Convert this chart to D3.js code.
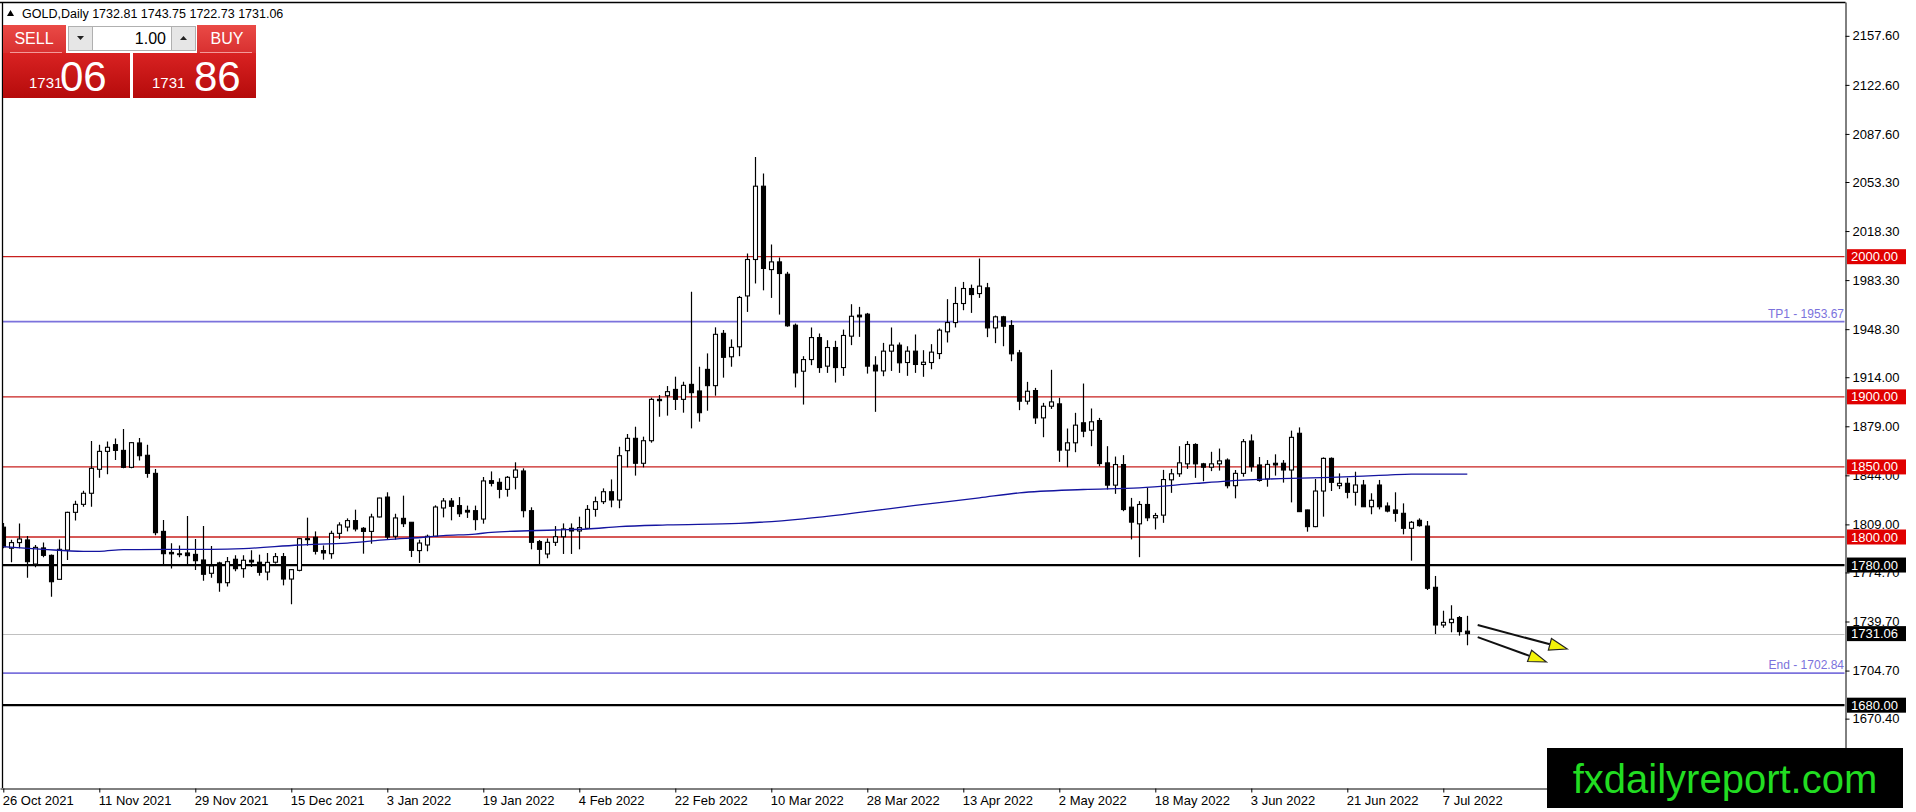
<!DOCTYPE html>
<html><head><meta charset="utf-8">
<script src="https://cdn.jsdelivr.net/npm/d3@7/dist/d3.min.js"></script>
<style>html,body{margin:0;padding:0;background:#fff;overflow:hidden}svg{display:block}</style>
</head><body><svg id="c" width="1916" height="812"></svg>
<script>
// ---------------- DATA ----------------
const opens = [1807,1792,1796,1797.9,1780.7,1792.2,1786.9,1769.8,1790.7,1817.6,1823.3,1831.2,1848.3,1861.1,1865.9,1861.8,1849.7,1867.1,1858.3,1845.4,
1804,1789,1788,1788.6,1787.6,1783.6,1774.1,1781.5,1767.4,1784.1,1777.4,1783.4,1782,1775,1782,1786,1770,1776.2,1798.8,1799.8,
1790.3,1788.1,1802.6,1807.1,1811.7,1806.2,1804,1814.3,1828.5,1800.5,1813.3,1810.5,1790.3,1794.3,1800.5,1820.7,1825.7,1822.4,1819,1818.8,
1812.8,1840.2,1839,1834,1842.6,1847.1,1818.8,1796.7,1787.9,1796.2,1800.2,1806.2,1804.3,1806.2,1819.7,1825.2,1832.3,1826.4,1861.6,1870.4,
1852.6,1868.7,1898.2,1900.8,1905.3,1898.2,1908.9,1904.2,1919.6,1908,1945.3,1928.6,1935.7,1972,1998,2050.3,1990.8,1996.3,1987.5,1951.1,
1918.3,1926.6,1942.3,1921.9,1935.2,1920.9,1943.3,1958.3,1959,1922.6,1918.5,1932.6,1936.9,1924.5,1932.6,1923.1,1924.5,1930.9,1946.4,1953,
1966.6,1977.3,1973.7,1977.8,1949.2,1957.1,1950.9,1931.4,1896.9,1904.5,1885,1893.3,1895,1862,1867.2,1881.5,1876.2,1883.1,1852.9,1837,
1851.7,1821.3,1809.4,1823.2,1813.7,1815.6,1840.8,1845.1,1852.2,1866,1852.2,1849.8,1852.2,1854.9,1836.6,1845.4,1868.5,1851.4,1841.4,1852.6,
1852.6,1847.8,1874,1819.3,1807.4,1832.8,1856.1,1836.6,1838.3,1831.9,1837.1,1821.6,1837.1,1822.1,1819.3,1816.9,1806.2,1811.9,1807.8,1764.1,
1737.2,1738.9,1742.5,1732.81];
const highs = [1810,1798,1809.7,1800.7,1794.3,1796,1787.5,1798.3,1818,1825.9,1833,1868.5,1865.9,1868.2,1870.2,1877,1867.8,1870.6,1865.9,1848.5,
1812.1,1795.5,1794,1815,1798.6,1807.8,1793.6,1782.4,1785.7,1786.9,1786.9,1790.5,1787.4,1788.6,1788.6,1788.6,1777,1799.3,1813.8,1804,
1794,1804.5,1810.5,1813.3,1819.5,1807.1,1816.6,1828,1831.9,1816.6,1829.5,1810.5,1798.1,1801.7,1822.6,1827.8,1827.8,1828.5,1822.4,1822.4,
1842.8,1846.8,1841.9,1843.5,1853.3,1849,1821.2,1797.9,1799,1807.8,1809.7,1809.7,1814.5,1822.8,1828.8,1834.7,1841.1,1864.4,1873.5,1878.7,
1871.6,1899.4,1901.3,1907.7,1914.4,1910.8,1975,1921.5,1931,1949.6,1947.7,1941,1972,2002.3,2071.2,2059.3,2008.7,1999.4,1989.2,1952.3,
1929,1949.5,1945.2,1940.4,1940,1948,1966.1,1964.2,1959.9,1929,1938.5,1949.5,1938.8,1936.1,1944.5,1933.3,1937.6,1948.8,1969.7,1978.5,
1982,1980.1,1998.7,1981.3,1958,1957.8,1954.7,1933.5,1910.7,1906.4,1895.7,1919.3,1899.3,1877.4,1888.6,1909.5,1891.7,1885,1864.8,1857.4,
1858.4,1827.9,1825.6,1835.1,1817.2,1847.9,1848.6,1864.8,1868.4,1866.9,1852.9,1860.8,1863.1,1856.1,1847.8,1869.9,1873.2,1857.1,1854.9,1859,
1854.9,1875.9,1878.2,1819.5,1841.4,1856.8,1856.8,1845.4,1842.3,1846.6,1840.7,1831.2,1840.7,1824.7,1831.9,1824,1811.4,1813.3,1811.4,1772.2,
1747.4,1751.3,1743.6,1743.75];
const lows = [1792,1782,1792,1771,1778.4,1785.5,1757.4,1769.5,1783.6,1811.7,1821.6,1821.6,1842.3,1844.7,1854.9,1849,1849,1854.5,1842.3,1801.2,
1780.7,1777.6,1785.5,1780,1776.5,1768.8,1771,1761,1764.6,1775.6,1771,1778.6,1772.4,1769.1,1781,1765.5,1752,1775.5,1793.8,1787.5,
1783.8,1784.5,1798.6,1804,1804,1788.1,1795.2,1814,1798.1,1798.1,1807.1,1785.7,1781.5,1789.8,1800,1814,1811.9,1814.3,1813.6,1804.8,
1809.5,1836.1,1827.6,1828.8,1834,1814,1791.2,1779.3,1784.8,1793.6,1787.9,1787.9,1791.2,1805.7,1814.5,1823.5,1821.2,1820.5,1849.7,1843.8,
1849.7,1867.3,1885.8,1886.6,1890.6,1888.7,1877.5,1882.3,1890.1,1900.8,1913.7,1921.5,1929,1960.6,1980.9,1976,1970.6,1958.7,1950,1906.7,
1894.5,1922.6,1917.1,1917.1,1910.2,1915,1936.9,1942.8,1916.6,1889.3,1914.7,1918.5,1917.1,1915,1917.1,1914.3,1919.7,1926.9,1938.8,1949.5,
1961.8,1959.9,1970.6,1942.6,1938.3,1936.1,1925.4,1890.5,1894.5,1880.7,1871.2,1891.4,1853.6,1849.8,1860.5,1871.2,1864.8,1850.5,1833.9,1830.8,
1818.4,1798.3,1785.6,1811.3,1805.4,1810.1,1831.5,1842.9,1848.6,1842.2,1839.8,1847,1847.4,1834.7,1827.6,1843,1846.6,1839.5,1835.9,1843.8,
1838.8,1824.7,1818,1803.8,1807,1814.5,1832.8,1834.2,1827.6,1822.4,1821.5,1816.2,1819.7,1817.6,1810.9,1801.9,1783.1,1807.4,1762.2,1730.8,
1735.3,1732,1729.6,1722.73];
const closes = [1793,1796,1798.6,1782.4,1792.6,1786.9,1768.1,1791.2,1817.6,1823.3,1831.2,1849,1861.1,1864,1861.8,1849.7,1867.3,1858,1845.4,1803.1,
1788.1,1788,1787.8,1786.7,1783.1,1773.4,1779.3,1767.4,1782.4,1777.4,1783.4,1782.2,1774.8,1781.9,1786,1770,1776.7,1798.8,1798.1,1789.8,
1788.6,1802.6,1808.6,1811.7,1805.7,1804,1814.3,1827.8,1800,1813.6,1809.5,1790.5,1795.7,1800.5,1821.4,1825.7,1821.9,1816.6,1817.8,1812.4,
1840,1838.3,1834,1842.6,1847.8,1818.8,1796.2,1791.2,1796.2,1800.2,1805.7,1804.3,1806.7,1819.7,1825.2,1832.3,1826.4,1858,1870.4,1852.6,
1868.7,1898.2,1897.3,1903.7,1898.2,1908.2,1903,1888.7,1908,1944.6,1928.2,1935.3,1970.9,1998,2050.3,1991.6,1996.3,1988,1950.7,1917.1,
1926.6,1942.3,1920.9,1935.2,1920.9,1943.8,1957.5,1957.1,1921.9,1918.5,1932.6,1936.9,1924.3,1932.6,1923.1,1924.7,1931.9,1947.6,1953,1966.6,
1977.3,1973,1979,1949.2,1957.1,1950.4,1930.7,1896.9,1904,1885,1893.3,1896.4,1862,1867.2,1879.8,1875.5,1882.2,1852.4,1837,1851.7,
1819.6,1810.6,1823.2,1813.7,1815.3,1841,1845.1,1852.9,1866,1852.2,1849.8,1852.2,1854.3,1836.6,1845.4,1868,1850.2,1840.4,1851.8,1851.4,
1847.8,1871.1,1818.1,1807.4,1832.8,1856.1,1839,1838.3,1831.9,1837.1,1821.6,1826.2,1821.6,1818.5,1816.9,1806.2,1810.5,1808.1,1763.4,1737.2,
1739.1,1741.3,1732.5,1731.06];

// moving average readings (bar index -> value)
const maBars   = [0,5,10,12,15,26,30,37,43,48,53,55,59,61,69,73,77,83,92,100,107,114,122,127,135,142,149,153,161,166,170,173,176,183];
const maValues = [1793.1,1791.2,1789.8,1789.8,1791,1791.2,1791.7,1794.3,1795.7,1798.1,1800,1801,1802.1,1803.3,1805,1805.7,1807.4,1808.6,1809.7,1813,1817.5,1822.5,1827.9,1831.5,1833.9,1835.1,1838.2,1839.9,1841.9,1842.6,1843.5,1844.2,1844.9,1844.9];

const dateLabels = ["26 Oct 2021","11 Nov 2021","29 Nov 2021","15 Dec 2021","3 Jan 2022","19 Jan 2022","4 Feb 2022","22 Feb 2022","10 Mar 2022","28 Mar 2022","13 Apr 2022","2 May 2022","18 May 2022","3 Jun 2022","21 Jun 2022","7 Jul 2022"];
const dateBars   = [0,12,24,36,48,60,72,84,96,108,120,132,144,156,168,180];

const priceTicks = [2157.60,2122.60,2087.60,2053.30,2018.30,1983.30,1948.30,1914.00,1879.00,1844.00,1809.00,1774.70,1739.70,1704.70,1670.40];

const redLevels   = [2000,1900,1850,1800];
const blackLevels = [1780,1680];
const targetNames  = ["TP1","End"];
const targetValues = [1953.67,1702.84];
const bidPrice = 1731.06;

const symbolTitle = "GOLD,Daily";
const headerOHLC = [1732.81,1743.75,1722.73,1731.06];

// arrows in data space
const arrowStartBars = [184.3,184.3];
const arrowStartPrices = [1737.2,1728.6];
const arrowEndBars = [195.5,192.9];
const arrowEndPrices = [1720.1,1710.8];

// ---------------- LAYOUT ----------------
const W = 1916, H = 812;
const plotRight = 1845, plotBottom = 788, plotTop = 2, plotLeft = 2;
const FONT = "'Liberation Sans', Arial, sans-serif";

const x = d3.scaleLinear().domain([0, 183]).range([3.3, 1467.3]);
const xFull = d3.scaleLinear().domain([x.invert(0), x.invert(plotRight)]).range([0, plotRight]);
const y = d3.scaleLinear().domain([1800, 2000]).range([537, 256.7]);
const yFull = d3.scaleLinear().domain([y.invert(plotBottom), y.invert(plotTop)]).range([plotBottom, plotTop]);

const svg = d3.select("#c");
svg.append("rect").attr("width", W).attr("height", H).attr("fill", "#fff");

const defs = svg.append("defs");
defs.append("clipPath").attr("id", "plotclip").append("rect")
  .attr("x", plotLeft + 0.5).attr("y", plotTop + 0.5).attr("width", plotRight - plotLeft - 1).attr("height", plotBottom - plotTop - 1);

const plot = svg.append("g").attr("clip-path", "url(#plotclip)");

// bid line
plot.append("line").attr("x1", 0).attr("x2", plotRight).attr("y1", Math.round(y(bidPrice)) + 0.5).attr("y2", Math.round(y(bidPrice)) + 0.5)
  .attr("stroke", "#c0c0c0").attr("stroke-width", 1);

// red levels
plot.selectAll("line.red").data(redLevels).enter().append("line")
  .attr("x1", 0).attr("x2", plotRight)
  .attr("y1", d => y(d)).attr("y2", d => y(d))
  .attr("stroke", "#c8201e").attr("stroke-width", 1.3);

// target levels
const targetColor = "#7b72dc";
plot.selectAll("line.tg").data(targetValues).enter().append("line")
  .attr("x1", 0).attr("x2", plotRight)
  .attr("y1", d => y(d)).attr("y2", d => y(d))
  .attr("stroke", targetColor).attr("stroke-width", 1.8);
plot.selectAll("text.tg").data(targetValues).enter().append("text")
  .attr("x", plotRight - 1).attr("y", d => y(d) - 4)
  .attr("text-anchor", "end").attr("fill", targetColor)
  .attr("font-family", FONT).attr("font-size", 12)
  .text((d, i) => targetNames[i] + " - " + d.toFixed(2));

// black levels
plot.selectAll("line.blk").data(blackLevels).enter().append("line")
  .attr("x1", 0).attr("x2", plotRight)
  .attr("y1", d => y(d)).attr("y2", d => y(d))
  .attr("stroke", "#000").attr("stroke-width", 2.2);

// candles
const bars = d3.range(opens.length);
const cg = plot.append("g");
bars.forEach(i => {
  const cx = Math.round(x(i));
  const o = opens[i], c = closes[i];
  cg.append("line")
    .attr("x1", cx + 0.5).attr("x2", cx + 0.5)
    .attr("y1", y(highs[i])).attr("y2", y(lows[i]))
    .attr("stroke", "#000").attr("stroke-width", 1.2);
  const top = y(Math.max(o, c)), bot = y(Math.min(o, c));
  const bull = c >= o;
  cg.append("rect")
    .attr("x", cx - 2 + 0.5).attr("width", 4)
    .attr("y", top).attr("height", Math.max(bot - top, 0.8))
    .attr("fill", bull ? "#fff" : "#000").attr("stroke", "#000").attr("stroke-width", 1.1);
});

// moving average
plot.append("path")
  .datum(maBars.map((b, i) => [b, maValues[i]]))
  .attr("d", d3.line().x(d => x(d[0])).y(d => y(d[1])).curve(d3.curveMonotoneX))
  .attr("fill", "none").attr("stroke", "#1414a0").attr("stroke-width", 1.3);

// arrows
const ag = plot.append("g");
arrowStartBars.forEach((b, i) => {
  const x1 = x(b), y1 = y(arrowStartPrices[i]);
  const x2 = x(arrowEndBars[i]), y2 = y(arrowEndPrices[i]);
  const ang = Math.atan2(y2 - y1, x2 - x1);
  const L = 18, Wd = 6;
  const bx = x2 - L * Math.cos(ang), by = y2 - L * Math.sin(ang);
  const px = -Math.sin(ang) * Wd, py = Math.cos(ang) * Wd;
  ag.append("line").attr("x1", x1).attr("y1", y1).attr("x2", bx).attr("y2", by)
    .attr("stroke", "#111").attr("stroke-width", 2);
  ag.append("path")
    .attr("d", `M${x2},${y2}L${bx + px},${by + py}L${bx - px},${by - py}Z`)
    .attr("fill", "#f2f20a").attr("stroke", "#222").attr("stroke-width", 1.2);
});

// frame / axes
const yAxis = d3.axisRight(yFull).tickValues(priceTicks).tickFormat(d3.format(".2f")).tickSize(4).tickPadding(3).tickSizeOuter(0);
const ya = svg.append("g").attr("transform", `translate(${plotRight + 0.5},0)`).call(yAxis);
ya.select(".domain").attr("stroke", "#000");
ya.selectAll("text").attr("font-family", FONT).attr("font-size", 13).attr("fill", "#000");

const xAxis = d3.axisBottom(xFull).tickValues(dateBars).tickFormat((d, i) => dateLabels[i]).tickSize(4).tickPadding(3).tickSizeOuter(0);
const xa = svg.append("g").attr("transform", `translate(0,${plotBottom + 0.5})`).call(xAxis);
xa.select(".domain").attr("stroke", "#000");
xa.selectAll("text").attr("font-family", FONT).attr("font-size", 13).attr("fill", "#000").attr("text-anchor", "start").attr("dx", -1);

svg.append("line").attr("x1", 0).attr("x2", plotRight + 0.5).attr("y1", plotTop + 0.5).attr("y2", plotTop + 0.5).attr("stroke", "#000").attr("stroke-width", 1.3);
svg.append("line").attr("x1", plotLeft + 0.5).attr("x2", plotLeft + 0.5).attr("y1", plotTop).attr("y2", plotBottom).attr("stroke", "#000").attr("stroke-width", 1.3);

// level labels on axis
const boxLabel = (val, fill) => {
  const g = svg.append("g");
  g.append("rect").attr("x", plotRight + 2).attr("y", y(val) - 7.5).attr("width", 59).attr("height", 15).attr("fill", fill);
  g.append("text").attr("x", plotRight + 6).attr("y", y(val)).attr("dy", "0.35em")
    .attr("font-family", FONT).attr("font-size", 13).attr("fill", "#fff").text(val.toFixed(2));
};
redLevels.forEach(v => boxLabel(v, "#e00000"));
blackLevels.forEach(v => boxLabel(v, "#000"));
boxLabel(bidPrice, "#000");

// header
svg.append("path").attr("d", "M7,16L10.5,10L14,16Z").attr("fill", "#000");
svg.append("text").attr("x", 22).attr("y", 18).attr("font-family", FONT).attr("font-size", 12.5).attr("fill", "#000")
  .text(symbolTitle + " " + headerOHLC.map(v => v.toFixed(2)).join(" "));

// one-click trading panel
const gradB = defs.append("linearGradient").attr("id", "boxg").attr("x1", 0).attr("x2", 0).attr("y1", 0).attr("y2", 1);
gradB.append("stop").attr("offset", "0%").attr("stop-color", "#d92222");
gradB.append("stop").attr("offset", "100%").attr("stop-color", "#b50b0b");
const gradT = defs.append("linearGradient").attr("id", "btng").attr("x1", 0).attr("x2", 0).attr("y1", 0).attr("y2", 1);
gradT.append("stop").attr("offset", "0%").attr("stop-color", "#ea4a46");
gradT.append("stop").attr("offset", "100%").attr("stop-color", "#d83030");

const panel = svg.append("g");
panel.append("rect").attr("x", 3).attr("y", 25).attr("width", 63).attr("height", 28).attr("fill", "url(#btng)");
panel.append("rect").attr("x", 197).attr("y", 25).attr("width", 59).attr("height", 28).attr("fill", "url(#btng)");
panel.append("rect").attr("x", 3).attr("y", 53).attr("width", 127).attr("height", 45).attr("fill", "url(#boxg)");
panel.append("rect").attr("x", 133).attr("y", 53).attr("width", 123).attr("height", 45).attr("fill", "url(#boxg)");
panel.append("line").attr("x1", 10).attr("x2", 62).attr("y1", 52.5).attr("y2", 52.5).attr("stroke", "#f39a9a").attr("stroke-width", 1);
panel.append("line").attr("x1", 200).attr("x2", 252).attr("y1", 52.5).attr("y2", 52.5).attr("stroke", "#f39a9a").attr("stroke-width", 1);
panel.append("rect").attr("x", 68.5).attr("y", 26.5).attr("width", 24).attr("height", 24).attr("fill", "#e6e6e6").attr("stroke", "#b0b0b0");
panel.append("rect").attr("x", 92.5).attr("y", 26.5).attr("width", 79).attr("height", 24).attr("fill", "#fff").attr("stroke", "#b0b0b0");
panel.append("rect").attr("x", 171.5).attr("y", 26.5).attr("width", 24).attr("height", 24).attr("fill", "#e6e6e6").attr("stroke", "#b0b0b0");
panel.append("path").attr("d", "M77,36L84,36L80.5,40Z").attr("fill", "#222");
panel.append("path").attr("d", "M180,40L187,40L183.5,36Z").attr("fill", "#222");
panel.append("text").attr("x", 166).attr("y", 44).attr("text-anchor", "end").attr("font-family", FONT).attr("font-size", 16).attr("fill", "#000").text("1.00");
panel.append("text").attr("x", 34).attr("y", 44).attr("text-anchor", "middle").attr("font-family", FONT).attr("font-size", 16).attr("fill", "#fff").text("SELL");
panel.append("text").attr("x", 227).attr("y", 44).attr("text-anchor", "middle").attr("font-family", FONT).attr("font-size", 16).attr("fill", "#fff").text("BUY");
const priceParts = [["1731","06",29,60],["1731","86",152,194]];
priceParts.forEach(p => {
  panel.append("text").attr("x", p[2]).attr("y", 88).attr("font-family", FONT).attr("font-size", 15).attr("fill", "#fff").text(p[0]);
  panel.append("text").attr("x", p[3]).attr("y", 91).attr("font-family", FONT).attr("font-size", 42).attr("fill", "#fff").text(p[1]);
});

// watermark
svg.append("rect").attr("x", 1547).attr("y", 748).attr("width", 356).attr("height", 60).attr("fill", "#000");
svg.append("text").attr("x", 1725).attr("y", 793).attr("text-anchor", "middle").attr("font-family", FONT).attr("font-size", 40).attr("fill", "#22dd22").text("fxdailyreport.com");
</script>
</body></html>
